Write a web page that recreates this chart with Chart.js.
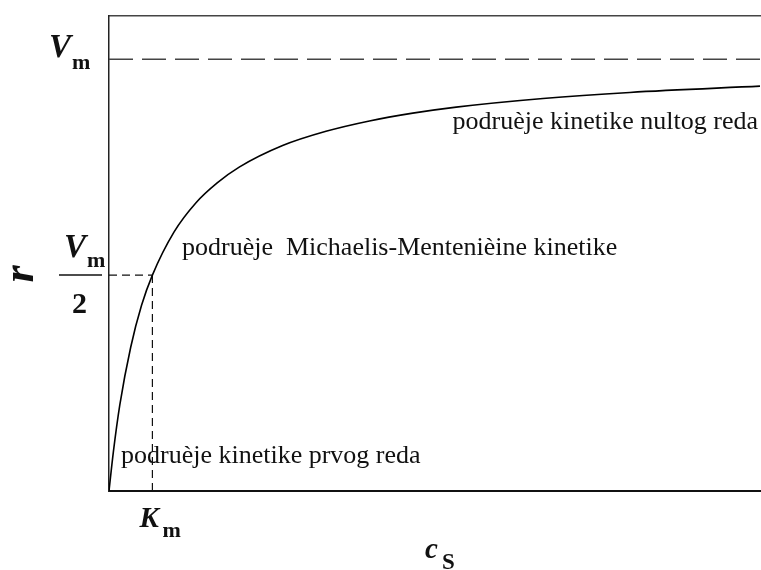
<!DOCTYPE html>
<html>
<head>
<meta charset="utf-8">
<script src="https://cdn.jsdelivr.net/npm/chart.js@4"></script>
<style>
  body { margin: 0; background: #fff; }
  canvas { display: block; }
</style>
</head>
<body>
<canvas id="mmCanvas" width="761" height="570"></canvas>
<script>
// podaci ocitani sa slike (cS u jedinicama Km, r u jedinicama Vm)
var cs_values = [0, 0.1, 0.25, 0.5, 0.75, 1, 1.5, 2, 2.5, 3, 4, 5, 6, 7, 8, 10, 12, 15];
var r_values = [0, 0.09, 0.2, 0.333, 0.43, 0.5, 0.6, 0.667, 0.714, 0.75, 0.8, 0.833, 0.857, 0.875, 0.889, 0.909, 0.923, 0.9375];
var vm_value = 1;
var km_value = 1;
var x_range = [0, 15];
var y_range = [0, 1.1];
var region_labels = ["podruèje kinetike prvog reda", "podruèje  Michaelis-Mentenièine kinetike", "podruèje kinetike nultog reda"];

var curve = [];
for (var i = 0; i < cs_values.length; i++) {
  curve.push({x: cs_values[i], y: r_values[i]});
}

var SERIF = "'Liberation Serif', 'Times New Roman', serif";

function drawSub(ctx, main, sub, x, y, mainFont, subFont, subDx, subDy) {
  ctx.font = mainFont;
  ctx.fillText(main, x, y);
  ctx.font = subFont;
  ctx.fillText(sub, x + subDx, y + subDy);
}

var labelPlugin = {
  id: "mmLabels",
  afterDraw: function(chart) {
    var ctx = chart.ctx;
    var xs = chart.scales.x, ys = chart.scales.y;
    var yVm = ys.getPixelForValue(vm_value);
    var yHalf = ys.getPixelForValue(vm_value / 2);
    var xKm = xs.getPixelForValue(km_value);
    ctx.save();
    ctx.fillStyle = "#111";
    ctx.textAlign = "left";
    ctx.textBaseline = "alphabetic";

    // Vm
    drawSub(ctx, "V", "m", 49, yVm - 2, "italic bold 33px " + SERIF, "bold 22px " + SERIF, 23, 12);
    // Vm / 2
    drawSub(ctx, "V", "m", 64, yHalf - 18, "italic bold 33px " + SERIF, "bold 22px " + SERIF, 23, 10);
    ctx.strokeStyle = "#111";
    ctx.lineWidth = 1.5;
    ctx.beginPath();
    ctx.moveTo(59, yHalf);
    ctx.lineTo(102, yHalf);
    ctx.stroke();
    ctx.font = "bold 30px " + SERIF;
    ctx.fillText("2", 72, yHalf + 38);
    // Km
    drawSub(ctx, "K", "m", xKm - 13, 527, "italic bold 29px " + SERIF, "bold 22px " + SERIF, 23, 10);
    // cS
    drawSub(ctx, "c", "S", 425, 558, "italic bold 29px " + SERIF, "bold 23px " + SERIF, 17, 11);
    // r
    ctx.save();
    ctx.translate(33, 274);
    ctx.rotate(-Math.PI / 2);
    ctx.textAlign = "center";
    ctx.font = "italic bold 44px " + SERIF;
    ctx.fillText("r", 0, 0);
    ctx.restore();

    // oznake podrucja
    ctx.font = "26px " + SERIF;
    ctx.fillText(region_labels[0], 121, 463);
    ctx.fillText(region_labels[1], 182, 255);
    ctx.textAlign = "right";
    ctx.fillText(region_labels[2], 758, 129);
    ctx.restore();
  }
};

var mm_data = {
  datasets: [{
      data: curve,
      borderColor: "#000",
      borderWidth: 1.6,
      pointRadius: 0,
      cubicInterpolationMode: "monotone",
      fill: false
    }, {
      data: [{x: x_range[0], y: vm_value}, {x: x_range[1], y: vm_value}],
      borderColor: "#444",
      borderWidth: 1.5,
      borderDash: [24, 9],
      pointRadius: 0
    }, {
      data: [{x: 0, y: vm_value / 2}, {x: km_value, y: vm_value / 2}],
      borderColor: "#111",
      borderWidth: 1.2,
      borderDash: [8, 5],
      pointRadius: 0
    }, {
      data: [{x: km_value, y: vm_value / 2}, {x: km_value, y: 0}],
      borderColor: "#111",
      borderWidth: 1.2,
      borderDash: [8, 5],
      pointRadius: 0
    }]
};

var axisGrid = {display: false, drawTicks: false};

var context = document.getElementById("mmCanvas").getContext("2d");
var chart = new Chart(context, {
  type: "line",
  data: mm_data,
  plugins: [labelPlugin],
  options: {
    responsive: false,
    animation: false,
    devicePixelRatio: 1,
    layout: {padding: {left: 109, right: 1, top: 16, bottom: 79}},
    plugins: {legend: {display: false}, tooltip: {enabled: false}},
    scales: {
      x: {
        type: "linear", min: x_range[0], max: x_range[1],
        ticks: {display: false}, grid: axisGrid,
        border: {display: true, color: "#111", width: 2}
      },
      xTop: {
        type: "linear", position: "top", min: x_range[0], max: x_range[1],
        ticks: {display: false}, grid: axisGrid,
        border: {display: true, color: "#444", width: 1.5}
      },
      y: {
        type: "linear", min: y_range[0], max: y_range[1],
        ticks: {display: false}, grid: axisGrid,
        border: {display: true, color: "#222", width: 1.5}
      }
    }
  }
});
</script>
</body>
</html>
